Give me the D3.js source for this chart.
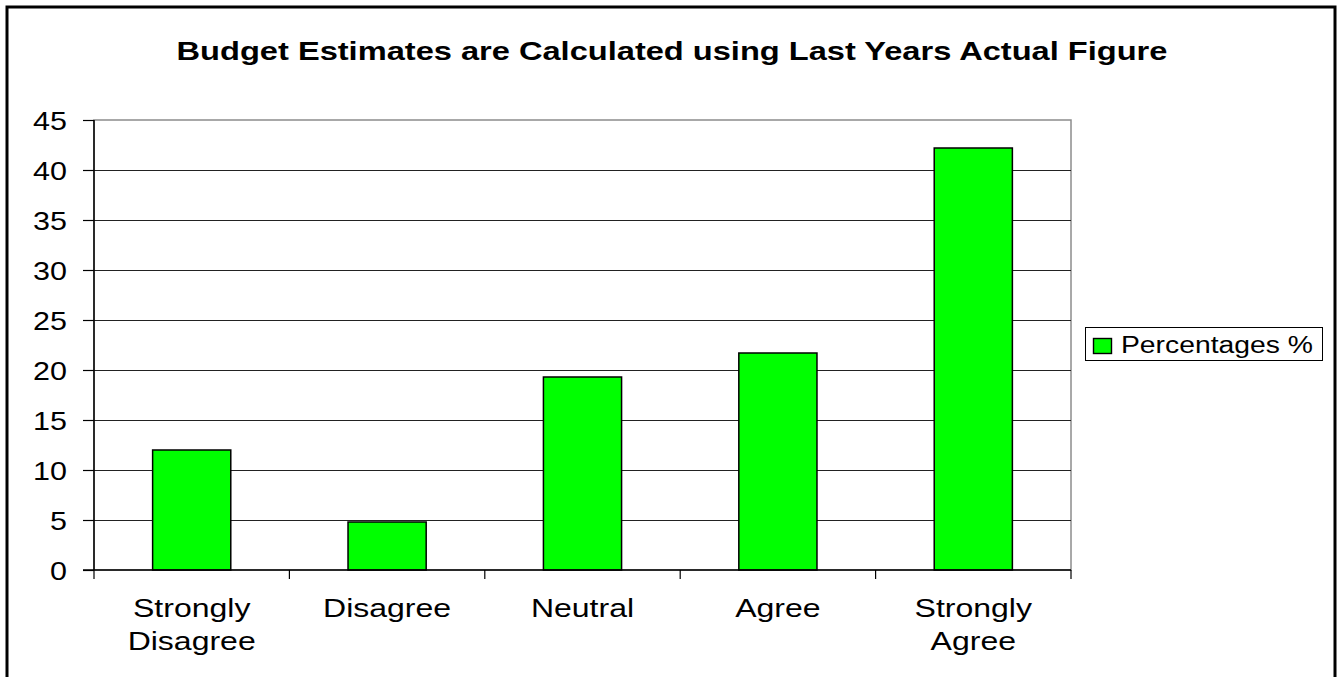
<!DOCTYPE html>
<html>
<head>
<meta charset="utf-8">
<script src="https://cdn.jsdelivr.net/npm/d3@7"></script>
<style>
  html, body { margin: 0; padding: 0; background: #fff; }
  svg { display: block; font-family: "Liberation Sans", Arial, sans-serif; }
</style>
</head>
<body>
<svg id="chart" width="1344" height="677"></svg>
<script>
// Survey responses
const categories = ["Strongly Disagree", "Disagree", "Neutral", "Agree", "Strongly Agree"];
const categoryLines = [["Strongly", "Disagree"], ["Disagree"], ["Neutral"], ["Agree"], ["Strongly", "Agree"]];
const percentages = [12.0, 4.8, 19.3, 21.7, 42.2];
const yTicks = [0, 5, 10, 15, 20, 25, 30, 35, 40, 45];
const seriesName = "Percentages %";
const chartTitle = "Budget Estimates are Calculated using Last Years Actual Figure";

const svg = d3.select("#chart");
const plot = { left: 94, right: 1071, top: 120, bottom: 570 };

// Widen glyphs horizontally while keeping the anchor in place
function widen(sel, k) {
  sel.each(function () {
    const w = this.getComputedTextLength();
    d3.select(this).attr("textLength", w * k).attr("lengthAdjust", "spacingAndGlyphs");
  });
}

// Outer frame
svg.append("rect")
  .attr("x", 7).attr("y", 7)
  .attr("width", 1328).attr("height", 680)
  .attr("fill", "#fff").attr("stroke", "#000").attr("stroke-width", 3);

// Title
svg.append("text")
  .attr("x", 672).attr("y", 60)
  .attr("text-anchor", "middle")
  .attr("font-weight", "bold").attr("font-size", 26.5)
  .text(chartTitle)
  .call(widen, 1.23);

const x = d3.scaleBand().domain(categories).range([plot.left, plot.right]).paddingInner(0).paddingOuter(0);
const y = d3.scaleLinear().domain([0, 45]).range([plot.bottom, plot.top]);

// Plot area frame (top/right in gray)
svg.append("rect")
  .attr("x", plot.left).attr("y", plot.top)
  .attr("width", plot.right - plot.left).attr("height", plot.bottom - plot.top)
  .attr("fill", "none").attr("stroke", "#8c8c8c").attr("stroke-width", 1.5);

// Horizontal gridlines
svg.append("g").selectAll("line")
  .data(yTicks.filter(t => t > 0 && t < 45))
  .join("line")
  .attr("x1", plot.left).attr("x2", plot.right)
  .attr("y1", d => Math.round(y(d)) + 0.5).attr("y2", d => Math.round(y(d)) + 0.5)
  .attr("stroke", "#222").attr("stroke-width", 1);

// Bars
const barW = x.bandwidth() * 0.4;
svg.append("g").selectAll("rect")
  .data(percentages)
  .join("rect")
  .attr("x", (d, i) => x(categories[i]) + (x.bandwidth() - barW) / 2)
  .attr("y", d => y(d))
  .attr("width", barW)
  .attr("height", d => y(0) - y(d))
  .attr("fill", "#00ff00")
  .attr("stroke", "#000").attr("stroke-width", 1.5);

// Y axis
const yAxis = d3.axisLeft(y).tickValues(yTicks).tickSize(11).tickPadding(16);
const gy = svg.append("g").attr("transform", `translate(${plot.left},0)`).call(yAxis);
gy.select(".domain").attr("stroke", "#000").attr("stroke-width", 1.5).attr("d", `M0,${plot.top}V${plot.bottom}`);
gy.selectAll(".tick line").attr("stroke", "#000").attr("stroke-width", 1.2);
gy.selectAll(".tick text")
  .attr("font-size", 25).attr("font-family", "Liberation Sans, Arial, sans-serif").attr("fill", "#000")
  .attr("dy", "0.36em")
  .call(widen, 1.22);

// X axis: ticks at category boundaries
const gx = svg.append("g");
gx.append("line")
  .attr("x1", plot.left - 11).attr("x2", plot.right)
  .attr("y1", plot.bottom).attr("y2", plot.bottom)
  .attr("stroke", "#000").attr("stroke-width", 1.5);
const boundaries = categories.map(c => x(c)).concat([x(categories[categories.length - 1]) + x.bandwidth()]);
gx.selectAll("line.tick")
  .data(boundaries)
  .join("line").attr("class", "tick")
  .attr("x1", d => d).attr("x2", d => d)
  .attr("y1", plot.bottom).attr("y2", plot.bottom + 9)
  .attr("stroke", "#000").attr("stroke-width", 1.2);

gx.selectAll("g.cat")
  .data(categories)
  .join("g").attr("class", "cat")
  .each(function (d, i) {
    const cx = x(d) + x.bandwidth() / 2;
    d3.select(this).selectAll("text")
      .data(categoryLines[i])
      .join("text")
      .attr("x", cx)
      .attr("y", (t, j) => 617 + j * 33)
      .attr("text-anchor", "middle")
      .attr("font-size", 25).attr("fill", "#000")
      .text(t => t)
      .call(widen, 1.28);
  });

// Legend
const legend = svg.append("g");
legend.append("rect")
  .attr("x", 1085.5).attr("y", 327.5).attr("width", 237).attr("height", 33)
  .attr("fill", "#fff").attr("stroke", "#000").attr("stroke-width", 1);
legend.append("rect")
  .attr("x", 1093.5).attr("y", 338.5).attr("width", 18).attr("height", 15)
  .attr("fill", "#00ff00").attr("stroke", "#000").attr("stroke-width", 1.4);
legend.append("text")
  .attr("x", 1121).attr("y", 352.5)
  .attr("font-size", 23).attr("fill", "#000")
  .text(seriesName)
  .call(widen, 1.23);
</script>
</body>
</html>
